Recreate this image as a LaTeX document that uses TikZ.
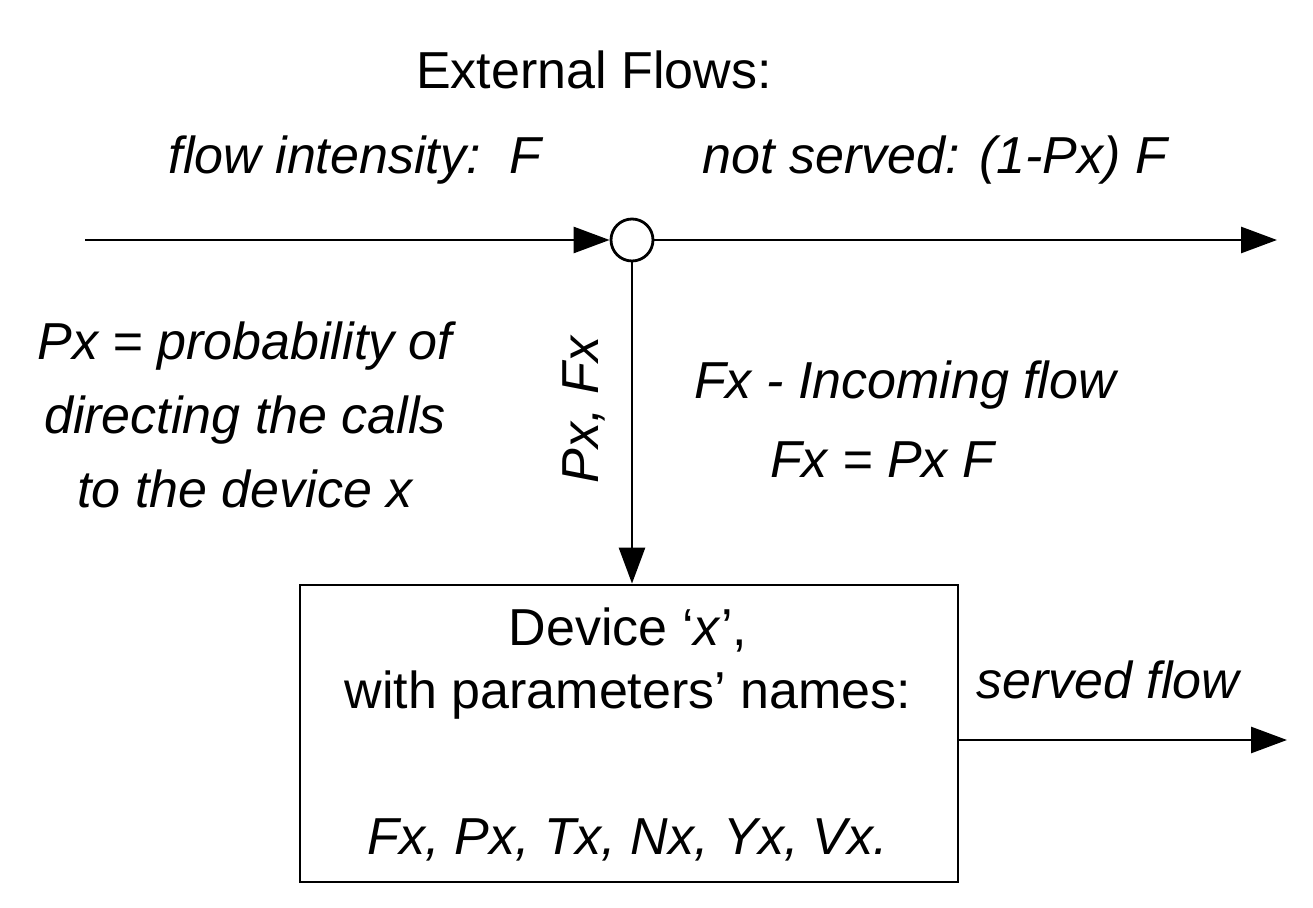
\documentclass[tikz,border=0pt]{standalone}
\usepackage{fontspec}
\setmainfont{Liberation Sans}
\usetikzlibrary{arrows.meta}
\begin{document}
\begin{tikzpicture}[x=0.5pt,y=-0.5pt,
  txt/.style={font=\fontsize{26}{30}\selectfont, inner sep=0pt},
  itx/.style={txt, font=\fontsize{26}{30}\selectfont\itshape},
  flow/.style={line width=1.4pt, -{Triangle[length=18pt,width=13pt]}},
  box/.style={draw, line width=1.4pt, minimum width=329pt, minimum height=148.5pt, inner sep=0pt}]
\useasboundingbox (0,0) rectangle (1313,908);
\node[txt] (title) at (594,70) {External Flows:};
\node[itx] (fi) at (355,160) {flow intensity:\ \ F};
\node[itx] (ns) at (935,160) {not served: (1-Px) F};
\coordinate (in) at (85,240);
\node[draw, circle, line width=1.4pt, minimum size=21pt, inner sep=0pt] (c) at (632,240) {};
\coordinate (out) at (1277,240);
\node[box] (dev) at (629,733.5) {};
\coordinate (sf) at (1287,740);
\draw[flow] (in) -- (c.west);
\draw[flow] (c.east) -- (out);
\draw[flow] (c.south) -- (dev.north -| c.south);
\draw[flow] (dev.east |- sf) -- (sf);
\node[itx, rotate=90] (pf) at (584,410) {Px, Fx};
\node[itx, align=center] (left) at (245,415) {Px = probability of\\[7pt]directing the calls\\[7pt]to the device x};
\node[itx] (inc) at (905,385) {Fx - Incoming flow};
\node[itx] (eq) at (882,460) {Fx = Px F};
\node[txt] (d1) at (628,630) {Device `\textit{x}',};
\node[txt] (d2) at (628,695) {with parameters' names:};
\node[itx] (d3) at (628,840) {Fx, Px, Tx, Nx, Yx, Vx.};
\node[itx] (sfl) at (1108,680) {served flow};
\end{tikzpicture}
\end{document}
